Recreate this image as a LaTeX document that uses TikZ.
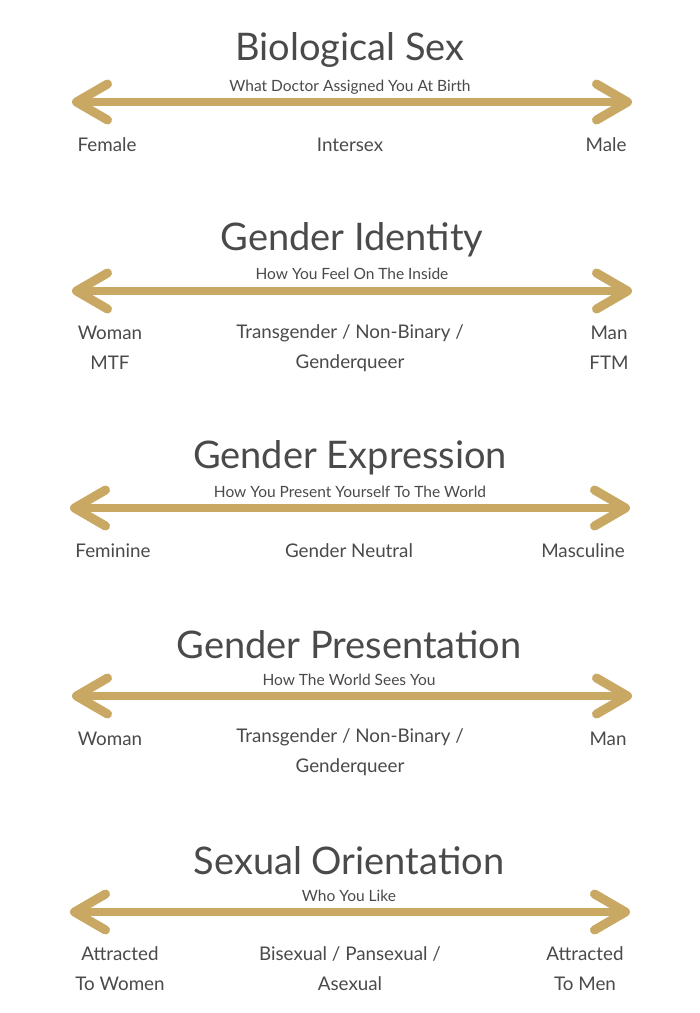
\documentclass[tikz,border=0pt]{standalone}
\usepackage{fontspec}
\setmainfont{Lato}
\usetikzlibrary{arrows.meta}
\definecolor{gold}{HTML}{C8A862}
\definecolor{ink}{HTML}{4A4A4A}
\tikzset{
  title/.style={font=\fontsize{38}{40}\selectfont, text=ink},
  subtitle/.style={font=\fontsize{15.5}{17}\selectfont, text=ink},
  pole/.style={font=\fontsize{18.8}{30}\selectfont, text=ink, align=center},
  scalearrow/.style={draw=gold, line width=7.5pt, line cap=round, line join=round,
    {Straight Barb[length=31pt,width=36pt,line width=9pt,round]}-{Straight Barb[length=31pt,width=36pt,line width=9pt,round]}}
}
\begin{document}
\begin{tikzpicture}[x=1pt,y=-1pt]
\useasboundingbox[fill=white] (0,0) rectangle (700,1013);

% biological sex
\node[title] (sex) at (350,50) {Biological Sex};
\node[subtitle] (sexsub) at (350,87) {What Doctor Assigned You At Birth};
\coordinate (sexL) at (72,102);
\coordinate (sexR) at (632,102);
\draw[scalearrow] (sexL) -- (sexR);
\node[pole] (female) at (107,145) {Female};
\node[pole] (intersex) at (350,145) {Intersex};
\node[pole] (male) at (606,145) {Male};

% gender identity
\node[title] (ident) at (352,240) {Gender Identity};
\node[subtitle] (identsub) at (352,274) {How You Feel On The Inside};
\coordinate (identL) at (72,291);
\coordinate (identR) at (632,291);
\draw[scalearrow] (identL) -- (identR);
\node[pole] (identwoman) at (110,348) {Woman\\MTF};
\node[pole] (identmid) at (350,348) {Transgender / Non-Binary /\\Genderqueer};
\node[pole] (identman) at (609,348) {Man\\FTM};

% gender expression
\node[title] (expr) at (350,458) {Gender Expression};
\node[subtitle] (exprsub) at (350,492) {How You Present Yourself To The World};
\coordinate (exprL) at (70,508);
\coordinate (exprR) at (630,508);
\draw[scalearrow] (exprL) -- (exprR);
\node[pole] (feminine) at (113,551) {Feminine};
\node[pole] (neutral) at (349,551) {Gender Neutral};
\node[pole] (masculine) at (583,551) {Masculine};

% gender presentation
\node[title] (pres) at (349,645) {Gender Presentation};
\node[subtitle] (pressub) at (349,680) {How The World Sees You};
\coordinate (presL) at (72,696);
\coordinate (presR) at (632,696);
\draw[scalearrow] (presL) -- (presR);
\node[pole] (preswoman) at (110,739) {Woman};
\node[pole] (presmid) at (350,752) {Transgender / Non-Binary /\\Genderqueer};
\node[pole] (presman) at (608,739) {Man};

% sexual orientation
\node[title] (orient) at (349,861) {Sexual Orientation};
\node[subtitle] (orientsub) at (349,896) {Who You Like};
\coordinate (orientL) at (70,912);
\coordinate (orientR) at (630,912);
\draw[scalearrow] (orientL) -- (orientR);
\node[pole] (women) at (120,969) {Attracted\\To Women};
\node[pole] (orientmid) at (350,969) {Bisexual / Pansexual /\\Asexual};
\node[pole] (men) at (585,969) {Attracted\\To Men};
\end{tikzpicture}
\end{document}
